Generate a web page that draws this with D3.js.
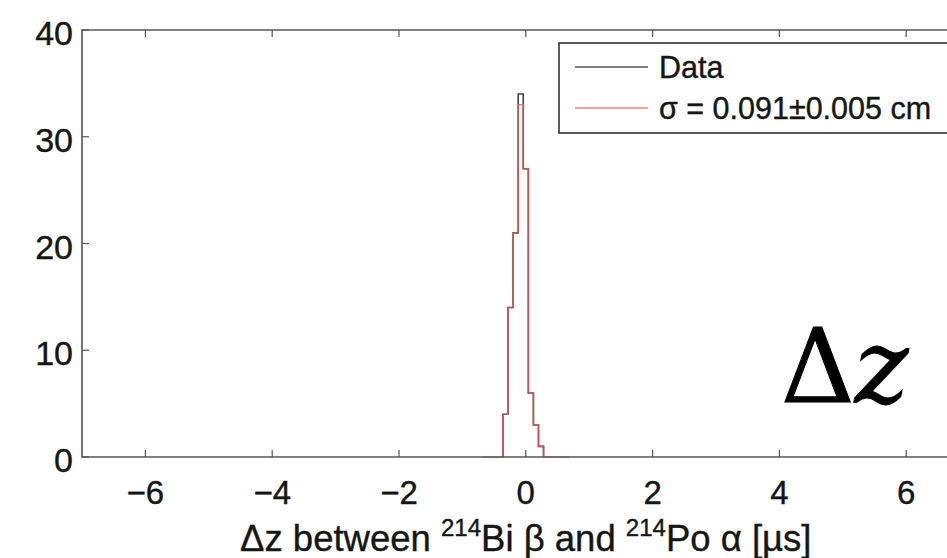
<!DOCTYPE html>
<html>
<head>
<meta charset="utf-8">
<script src="https://cdn.jsdelivr.net/npm/d3@7/dist/d3.min.js"></script>
<style>
  body { margin: 0; background: #fff; }
  svg { display: block; }
</style>
</head>
<body>
<script>
// histogram of delta z (bin left edges, width 0.08)
var binLefts = [-0.36, -0.28, -0.20, -0.12, -0.04, 0.04, 0.12, 0.20];
var counts   = [4, 14, 21, 34, 27, 6, 3, 1];
var binWidth = 0.08;

// gaussian fit at the same bins
var fitLefts  = [-0.68, -0.60, -0.52, -0.44, -0.36, -0.28, -0.20, -0.12, -0.04, 0.04, 0.12, 0.20, 0.28, 0.36, 0.44, 0.52, 0.60];
var fitCounts = [0, 0, 0, 0, 4, 14, 21, 33, 27, 6, 3, 1, 0, 0, 0, 0, 0];

var xTicks = [-6, -4, -2, 0, 2, 4, 6];
var yTicks = [0, 10, 20, 30, 40];
var legendLabels = ["Data", "\u03c3 = 0.091\u00b10.005 cm"];

var W = 947, H = 558;
var sans = "'Liberation Sans', Arial, Helvetica, sans-serif";
var ink = "#161616";

var svg = d3.select("body").append("svg")
  .attr("width", W)
  .attr("height", H);

var x = d3.scaleLinear().domain([-7, 7]).range([82, 82 + 14 * 63.4]);
var y = d3.scaleLinear().domain([0, 40]).range([457, 30]);

// step outline from left edges + counts
function stairs(lefts, vals, w) {
  var pts = [[lefts[0], 0]];
  lefts.forEach(function(l, i) {
    pts.push([l, vals[i]]);
    pts.push([l + w, vals[i]]);
  });
  pts.push([lefts[lefts.length - 1] + w, 0]);
  return pts;
}

var line = d3.line()
  .x(function(d) { return x(d[0]); })
  .y(function(d) { return y(d[1]); });

svg.append("path")
  .attr("d", line(stairs(binLefts, counts, binWidth)))
  .attr("fill", "none")
  .attr("stroke", "#444")
  .attr("stroke-width", 1.6);

svg.append("path")
  .attr("d", line(stairs(fitLefts, fitCounts, binWidth)))
  .attr("fill", "none")
  .attr("stroke", "#e8595b")
  .attr("stroke-opacity", 0.75)
  .attr("stroke-width", 1.6);

// frame
var axisColor = "#555";
svg.append("path")
  .attr("d", "M" + (x(7) + 5) + "," + y(40) + "H" + x(-7) + "V" + y(0) + "H" + (x(7) + 5))
  .attr("fill", "none")
  .attr("stroke", axisColor)
  .attr("stroke-width", 1.6);

function label(sel) {
  return sel.style("font-family", sans)
    .attr("fill", ink)
    .attr("stroke", ink)
    .attr("stroke-width", 0.4);
}

// ticks (inside, top and bottom / left)
xTicks.forEach(function(t) {
  svg.append("line").attr("x1", x(t)).attr("x2", x(t))
    .attr("y1", y(0)).attr("y2", y(0) - 7)
    .attr("stroke", axisColor).attr("stroke-width", 1.2);
  svg.append("line").attr("x1", x(t)).attr("x2", x(t))
    .attr("y1", y(40)).attr("y2", y(40) + 7)
    .attr("stroke", axisColor).attr("stroke-width", 1.2);
  label(svg.append("text"))
    .attr("x", x(t)).attr("y", 504)
    .attr("text-anchor", "middle")
    .attr("font-size", 33)
    .text(t < 0 ? "\u2212" + Math.abs(t) : t);
});

yTicks.forEach(function(t) {
  svg.append("line").attr("x1", x(-7)).attr("x2", x(-7) + 7)
    .attr("y1", y(t)).attr("y2", y(t))
    .attr("stroke", axisColor).attr("stroke-width", 1.2);
  label(svg.append("text"))
    .attr("x", 73).attr("y", y(t) + 15)
    .attr("text-anchor", "end")
    .attr("font-size", 34)
    .text(t);
});

// x axis title
var title = label(svg.append("text"))
  .attr("x", x(0)).attr("y", 551)
  .attr("text-anchor", "middle")
  .attr("font-size", 36.5);
title.append("tspan").text("\u0394z between ");
title.append("tspan").attr("font-size", 24).attr("dy", -15).text("214");
title.append("tspan").attr("dy", 15).text("Bi \u03b2 and ");
title.append("tspan").attr("font-size", 24).attr("dy", -15).text("214");
title.append("tspan").attr("dy", 15).text("Po \u03b1 [\u00b5s]");

// legend
svg.append("rect")
  .attr("x", 559).attr("y", 43)
  .attr("width", 420).attr("height", 90)
  .attr("fill", "#fff")
  .attr("stroke", "#333")
  .attr("stroke-width", 1.6);

var legendColors = ["#555", "#f08080"];
legendLabels.forEach(function(lab, i) {
  var ly = 67 + i * 41;
  svg.append("line")
    .attr("x1", 575).attr("x2", 648)
    .attr("y1", ly).attr("y2", ly)
    .attr("stroke", legendColors[i]).attr("stroke-width", 1.4);
  label(svg.append("text"))
    .attr("x", 659).attr("y", ly + 11)
    .attr("font-size", 30.5)
    .text(lab);
});

// big delta z annotation
var dz = svg.append("text")
  .attr("x", 781).attr("y", 402)
  .style("font-family", "'DejaVu Serif', 'Liberation Serif', serif")
  .attr("fill", "#000")
  .attr("stroke", "#000")
  .attr("stroke-width", 1)
  .attr("font-size", 102);
dz.append("tspan").text("\u0394");
dz.append("tspan").style("font-style", "italic").text("z");
</script>
</body>
</html>
